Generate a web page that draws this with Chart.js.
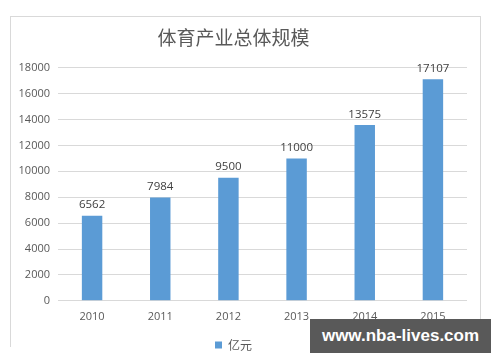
<!DOCTYPE html>
<html>
<head>
<meta charset="utf-8">
<script src="https://cdn.jsdelivr.net/npm/chart.js@4"></script>
<style>
  html, body { margin: 0; padding: 0; background: #fff; }
  #wrap { position: relative; width: 500px; height: 362px; }
  #frame { position: absolute; left: 10px; top: 16px; width: 469px; height: 330px; border: 1px solid #d9d9d9; border-bottom: none; }
  #myChart { position: absolute; left: 0; top: 0; }
  #mark { position: absolute; left: 310px; top: 319px; width: 181px; height: 34px; background: #595959;
          color: #fff; font: bold 17px "Liberation Sans", Arial, sans-serif; line-height: 34px; text-align: center; }
</style>
</head>
<body>
<div id="wrap">
  <div id="frame"></div>
  <canvas id="myChart" width="500" height="362"></canvas>
  <div id="mark">www.nba-lives.com</div>
</div>
<script>
const years = ["2010", "2011", "2012", "2013", "2014", "2015"];
const scale = [6562, 7984, 9500, 11000, 13575, 17107];
const seriesName = "亿元";

// draw the value above each bar
const barValues = {
  id: 'barValues',
  afterDatasetsDraw(chart) {
    const { ctx } = chart;
    const meta = chart.getDatasetMeta(0);
    ctx.save();
    ctx.fillStyle = '#404040';
    ctx.font = '11.5px "Open Sans", sans-serif';
    ctx.textAlign = 'center';
    ctx.textBaseline = 'bottom';
    meta.data.forEach((bar, i) => {
      ctx.fillText(chart.data.datasets[0].data[i], bar.x, bar.y - 5);
    });
    ctx.restore();
  }
};

const ctx = document.getElementById("myChart");

const myChart = new Chart(ctx, {
  type: "bar",
  plugins: [barValues],
  data: {
    labels: years,
    datasets: [
      {
        label: seriesName,
        data: scale,
        backgroundColor: '#5b9bd5',
        borderWidth: 0,
        categoryPercentage: 1,
        barPercentage: 0.3,
      },
    ],
  },
  options: {
    responsive: false,
    animation: false,
    layout: {
      padding: { left: 0, right: 33, top: 0, bottom: 1 },
    },
    plugins: {
      title: {
        display: true,
        text: "体育产业总体规模",
        color: "#595959",
        font: { size: 19, family: '"Noto Sans CJK SC", sans-serif', weight: 'normal' },
        padding: { top: 26, bottom: 19 },
      },
      tooltip: { enabled: false },
      legend: {
        display: true,
        position: "bottom",
        labels: {
          boxWidth: 7,
          boxHeight: 7,
          padding: 10,
          color: '#595959',
          font: { size: 12, family: '"Noto Sans CJK SC", sans-serif' },
        }
      },
    },
    scales: {
      y: {
        min: 0,
        max: 18000,
        afterFit(axis) { axis.width = 58; },
        border: { display: false },
        grid: { color: '#d9d9d9', drawTicks: false },
        ticks: {
          stepSize: 2000,
          padding: 8,
          color: '#595959',
          font: { size: 11, family: '"Open Sans", sans-serif' },
          callback: (v) => String(v),
        },
      },
      x: {
        afterFit(axis) { axis.height += 5; },
        border: { display: false },
        grid: { display: false },
        ticks: {
          padding: 1,
          color: '#595959',
          font: { size: 11, family: '"Open Sans", sans-serif' },
        },
      },
    },
  },
});
</script>
</body>
</html>
